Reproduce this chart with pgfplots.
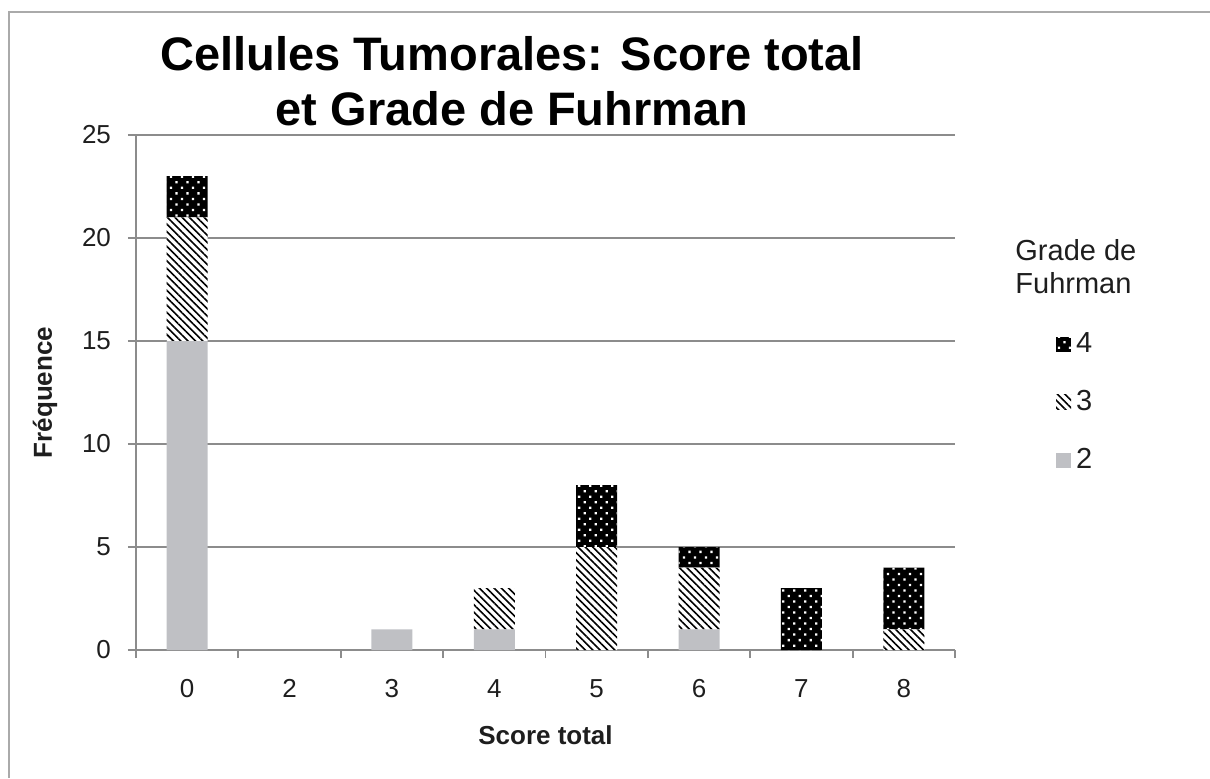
\documentclass[border=0pt]{standalone}
\usepackage{pgfplots}
\pgfplotsset{compat=1.18}
\usetikzlibrary{patterns.meta}
\usepackage{fontspec}
\setmainfont{Liberation Sans}
\definecolor{gridgray}{RGB}{140,140,140}
\definecolor{bargray}{RGB}{191,192,196}
\definecolor{txt}{RGB}{30,30,30}
\begin{document}
\begin{tikzpicture}
\useasboundingbox (0,0) rectangle (605pt,-389pt);
\draw[color={rgb,255:red,170;green,170;blue,170}, line width=1pt] (4.5pt,-389pt) -- (4.5pt,-6pt) -- (605pt,-6pt);
\node[anchor=base, font=\fontsize{23.5}{28}\selectfont\bfseries] at (256pt,-35pt) {Cellules Tumorales: Score total};
\node[anchor=base, font=\fontsize{23.5}{28}\selectfont\bfseries] at (256pt,-62.5pt) {et Grade de Fuhrman};
\node[anchor=base west, font=\fontsize{14.5}{17}\selectfont, text=txt, inner sep=0pt] at (507.5pt,-130pt) {Grade de};
\node[anchor=base west, font=\fontsize{14.5}{17}\selectfont, text=txt, inner sep=0pt] at (507.5pt,-146.5pt) {Fuhrman};
\begin{axis}[
  at={(68pt,-325pt)}, anchor=south west,
  scale only axis, width=409.5pt, height=257.5pt,
  ybar stacked, bar width=0.4,
  xmin=-0.5, xmax=7.5, ymin=0, ymax=25,
  xtick={0,...,7}, xticklabels={0,2,3,4,5,6,7,8},
  minor xtick={-0.5,0.5,...,7.5},
  ytick={0,5,...,25},
  axis x line*=bottom, axis y line*=left,
  axis line style={gridgray, line width=0.9pt, -},
  ymajorgrids, major grid style={gridgray, line width=0.9pt},
  tick align=outside,
  major tick length=4pt, minor tick length=4pt,
  major x tick style={draw=none},
  every tick/.style={gridgray, line width=0.9pt},
  /pgf/number format/assume math mode=true,
  ticklabel style={font=\fontsize{13}{15}\selectfont, text=txt},
  xticklabel style={anchor=north, text height=9.4pt, text depth=0pt, yshift=-7pt},
  yticklabel style={xshift=-5pt},
  xlabel={Score total}, ylabel={Fréquence},
  every axis x label/.style={at={(axis description cs:0.5,0)}, anchor=center, yshift=-42.5pt,
    font=\fontsize{13}{15}\selectfont\bfseries, text=txt},
  every axis y label/.style={at={(axis description cs:-0.111,0.5)}, anchor=center, rotate=90,
    font=\fontsize{13}{15}\selectfont\bfseries, text=txt},
  legend style={at={(axis description cs:1.123,0.625)}, anchor=north west, draw=none, fill=none,
    font=\fontsize{14.5}{17}\selectfont, text=txt, row sep=13.5pt, inner sep=0pt,
    nodes={inner xsep=2.5pt}},
  legend cell align=left,
  reverse legend,
  legend image code/.code={\path[#1] (0pt,-3.75pt) rectangle (7.5pt,3.75pt);},
]
\addplot[fill=bargray, draw=none] coordinates {(0,15) (1,0) (2,1) (3,1) (4,0) (5,1) (6,0) (7,0)};
\addlegendentry{2}
\addplot[fill=white, draw=none, postaction={pattern={Lines[angle=-45, distance=2.6pt, line width=0.8pt]}, pattern color=black}] coordinates {(0,6) (1,0) (2,0) (3,2) (4,5) (5,3) (6,0) (7,1)};
\addlegendentry{3}
\addplot[fill=black, draw=none, postaction={pattern={Dots[distance=3.9pt, radius=0.8pt, angle=45]}, pattern color=white}] coordinates {(0,2) (1,0) (2,0) (3,0) (4,3) (5,1) (6,3) (7,3)};
\addlegendentry{4}
\end{axis}
\end{tikzpicture}
\end{document}
